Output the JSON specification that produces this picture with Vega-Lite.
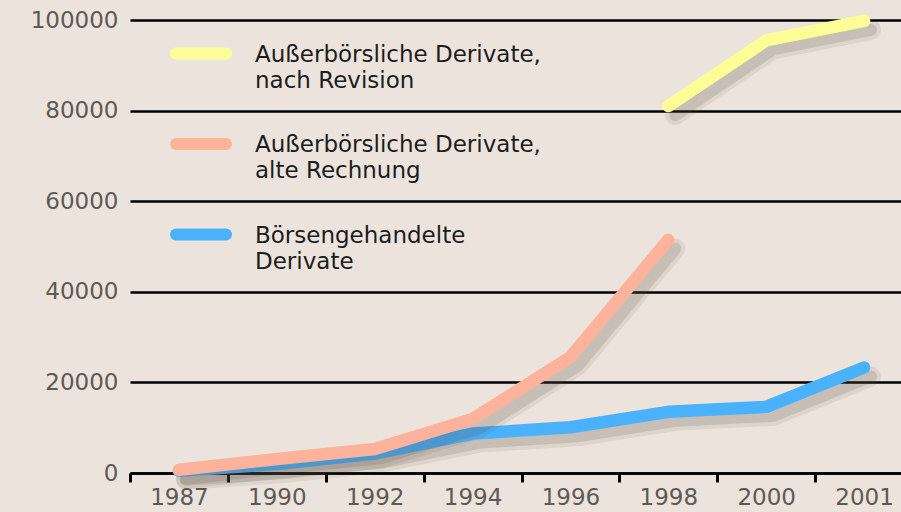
{
  "$schema": "https://vega.github.io/schema/vega-lite/v6.json",
  "width": 774,
  "height": 453,
  "autosize": {"type": "none"},
  "padding": {"left": 127, "top": 20, "right": 0, "bottom": 39},
  "background": "#ece4dc",
  "config": {"view": {"stroke": null}, "font": "DejaVu Sans"},
  "data": {
    "values": [
      {"Reihe": "Börsengehandelte Derivate", "Jahr": "1987", "Wert": 500},
      {"Reihe": "Börsengehandelte Derivate", "Jahr": "1990", "Wert": 2000},
      {"Reihe": "Börsengehandelte Derivate", "Jahr": "1992", "Wert": 4300},
      {"Reihe": "Börsengehandelte Derivate", "Jahr": "1994", "Wert": 8700},
      {"Reihe": "Börsengehandelte Derivate", "Jahr": "1996", "Wert": 10100},
      {"Reihe": "Börsengehandelte Derivate", "Jahr": "1998", "Wert": 13500},
      {"Reihe": "Börsengehandelte Derivate", "Jahr": "2000", "Wert": 14600},
      {"Reihe": "Börsengehandelte Derivate", "Jahr": "2001", "Wert": 23300},
      {"Reihe": "Außerbörsliche Derivate, alte Rechnung", "Jahr": "1987", "Wert": 700},
      {"Reihe": "Außerbörsliche Derivate, alte Rechnung", "Jahr": "1990", "Wert": 3100},
      {"Reihe": "Außerbörsliche Derivate, alte Rechnung", "Jahr": "1992", "Wert": 5300},
      {"Reihe": "Außerbörsliche Derivate, alte Rechnung", "Jahr": "1994", "Wert": 11900},
      {"Reihe": "Außerbörsliche Derivate, alte Rechnung", "Jahr": "1996", "Wert": 25600},
      {"Reihe": "Außerbörsliche Derivate, alte Rechnung", "Jahr": "1998", "Wert": 51500},
      {"Reihe": "Außerbörsliche Derivate, nach Revision", "Jahr": "1998", "Wert": 81000},
      {"Reihe": "Außerbörsliche Derivate, nach Revision", "Jahr": "2000", "Wert": 95500},
      {"Reihe": "Außerbörsliche Derivate, nach Revision", "Jahr": "2001", "Wert": 99800}
    ]
  },
  "encoding": {
    "x": {
      "field": "Jahr",
      "type": "ordinal",
      "sort": ["1987", "1990", "1992", "1994", "1996", "1998", "2000", "2001"],
      "scale": {"type": "band", "range": [3, 786], "paddingInner": 0, "paddingOuter": 0},
      "axis": {
        "title": null,
        "labelAngle": 0,
        "labelFontSize": 23,
        "labelColor": "#5e5955",
        "labelPadding": 4,
        "tickBand": "extent",
        "tickSize": 9,
        "tickWidth": 3,
        "tickColor": "#000000",
        "domainColor": "#000000",
        "domainWidth": 2.5,
        "grid": false
      }
    },
    "y": {
      "field": "Wert",
      "type": "quantitative",
      "scale": {"domain": [0, 100000], "nice": false},
      "axis": {
        "title": null,
        "values": [0, 20000, 40000, 60000, 80000, 100000],
        "format": "d",
        "grid": true,
        "gridColor": "#000000",
        "gridWidth": 2.5,
        "gridOpacity": 1,
        "domain": false,
        "ticks": false,
        "tickSize": 0,
        "labelPadding": 9,
        "labelFontSize": 23,
        "labelColor": "#5e5955"
      }
    }
  },
  "layer": [
    {
      "transform": [{"filter": {"field": "Reihe", "equal": "Börsengehandelte Derivate"}}],
      "layer": [
        {"mark": {"type": "line", "stroke": "#5a4a40", "strokeWidth": 20, "opacity": 0.1, "xOffset": 7, "yOffset": 9, "strokeCap": "round", "strokeJoin": "round"}, "encoding": {}},
        {"mark": {"type": "line", "stroke": "#5a4a40", "strokeWidth": 12, "opacity": 0.16, "xOffset": 7, "yOffset": 9, "strokeCap": "round", "strokeJoin": "round"}, "encoding": {}},
        {
          "mark": {"type": "line", "strokeWidth": 12.5, "strokeCap": "round", "strokeJoin": "round"},
          "encoding": {
            "color": {
              "field": "Reihe",
              "type": "nominal",
              "scale": {
                "domain": ["Außerbörsliche Derivate, nach Revision", "Außerbörsliche Derivate, alte Rechnung", "Börsengehandelte Derivate"],
                "range": ["#fdfd97", "#fdb39b", "#4ab2fd"]
              },
              "legend": {
                "orient": "none",
                "legendX": 43,
                "legendY": 2.5,
                "title": null,
                "padding": 0,
                "symbolType": "stroke",
                "symbolSize": 2500,
                "symbolStrokeWidth": 12,
                "symbolOpacity": 1,
                "labelFontSize": 23,
                "labelColor": "#1c1c1c",
                "labelOffset": 23,
                "labelLimit": 0,
                "labelBaseline": "alphabetic",
                "rowPadding": 20.5,
                "labelExpr": "indexof(datum.label, ', ') > 0 ? [slice(datum.label, 0, indexof(datum.label, ', ') + 1), slice(datum.label, indexof(datum.label, ', ') + 2)] : split(datum.label, ' ')",
                "encode": {
                  "symbols": {"update": {"strokeCap": {"value": "round"}}},
                  "labels": {"update": {"dy": {"value": 8}, "lineHeight": {"value": 26}}}
                }
              }
            }
          }
        }
      ]
    },
    {
      "transform": [{"filter": {"field": "Reihe", "equal": "Außerbörsliche Derivate, alte Rechnung"}}],
      "layer": [
        {"mark": {"type": "line", "stroke": "#5a4a40", "strokeWidth": 20, "opacity": 0.1, "xOffset": 7, "yOffset": 9, "strokeCap": "round", "strokeJoin": "round"}, "encoding": {}},
        {"mark": {"type": "line", "stroke": "#5a4a40", "strokeWidth": 12, "opacity": 0.16, "xOffset": 7, "yOffset": 9, "strokeCap": "round", "strokeJoin": "round"}, "encoding": {}},
        {
          "mark": {"type": "line", "strokeWidth": 12.5, "strokeCap": "round", "strokeJoin": "round"},
          "encoding": {"color": {"field": "Reihe", "type": "nominal"}}
        }
      ]
    },
    {
      "transform": [{"filter": {"field": "Reihe", "equal": "Außerbörsliche Derivate, nach Revision"}}],
      "layer": [
        {"mark": {"type": "line", "stroke": "#5a4a40", "strokeWidth": 20, "opacity": 0.1, "xOffset": 7, "yOffset": 9, "strokeCap": "round", "strokeJoin": "round"}, "encoding": {}},
        {"mark": {"type": "line", "stroke": "#5a4a40", "strokeWidth": 12, "opacity": 0.16, "xOffset": 7, "yOffset": 9, "strokeCap": "round", "strokeJoin": "round"}, "encoding": {}},
        {
          "mark": {"type": "line", "strokeWidth": 12.5, "strokeCap": "round", "strokeJoin": "round"},
          "encoding": {"color": {"field": "Reihe", "type": "nominal"}}
        }
      ]
    }
  ]
}
